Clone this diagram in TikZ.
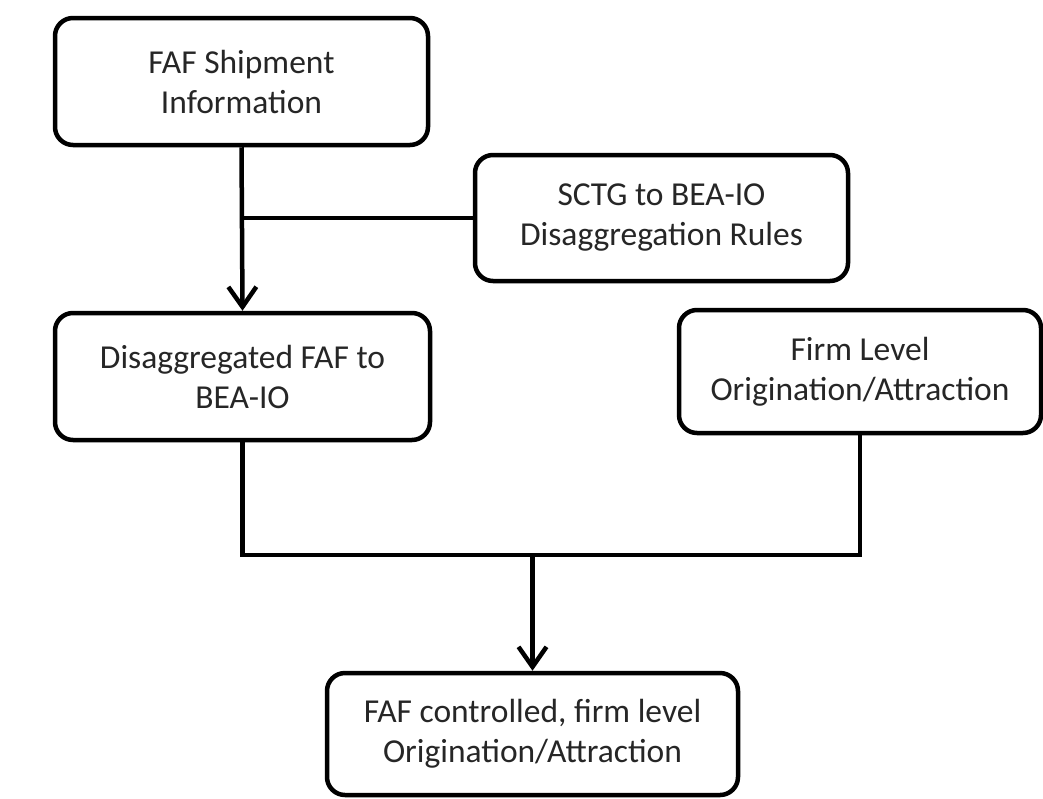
\documentclass[tikz,border=0pt]{standalone}
\usepackage{fontspec}
\setmainfont{Carlito}
\usetikzlibrary{arrows.meta}
\tikzset{
  flowbox/.style={draw=black, line width=4.5pt, rounded corners=18pt, align=center,
    inner sep=0pt, text=black!85, font=\fontsize{33.5}{40}\selectfont},
  conn/.style={draw=black, line width=4.5pt},
  arr/.style={conn, -{Straight Barb[length=20pt,width=28pt,line width=4.5pt]}}
}
\begin{document}
\begin{tikzpicture}[x=1pt,y=-1pt]
\fill[white] (0,0) rectangle (1043,798);
\useasboundingbox (0,0) rectangle (1043,798);
\node[flowbox, minimum width=373pt, minimum height=127pt] (b1) at (241.5,81.5) {FAF Shipment\\Information};
\node[flowbox, minimum width=373pt, minimum height=126pt] (b2) at (661.5,218) {SCTG to BEA-IO\\Disaggregation Rules};
\node[flowbox, minimum width=375pt, minimum height=127pt] (b3) at (242.5,376.5) {Disaggregated FAF to\\BEA-IO};
\node[flowbox, minimum width=362pt, minimum height=123pt] (b4) at (860,371.5) {Firm Level\\Origination/Attraction};
\node[flowbox, minimum width=411pt, minimum height=122pt] (b5) at (532.5,734) {FAF controlled, firm level\\Origination/Attraction};
\coordinate (j) at (532.5,555);
\draw[arr] (b1.south) -- (b3.north);
\draw[conn] (b2.west) -- (b2.west -| b1.south);
\draw[conn] (b3.south) |- (j) -| (b4.south);
\draw[arr] (j) -- (b5.north);
\end{tikzpicture}
\end{document}
